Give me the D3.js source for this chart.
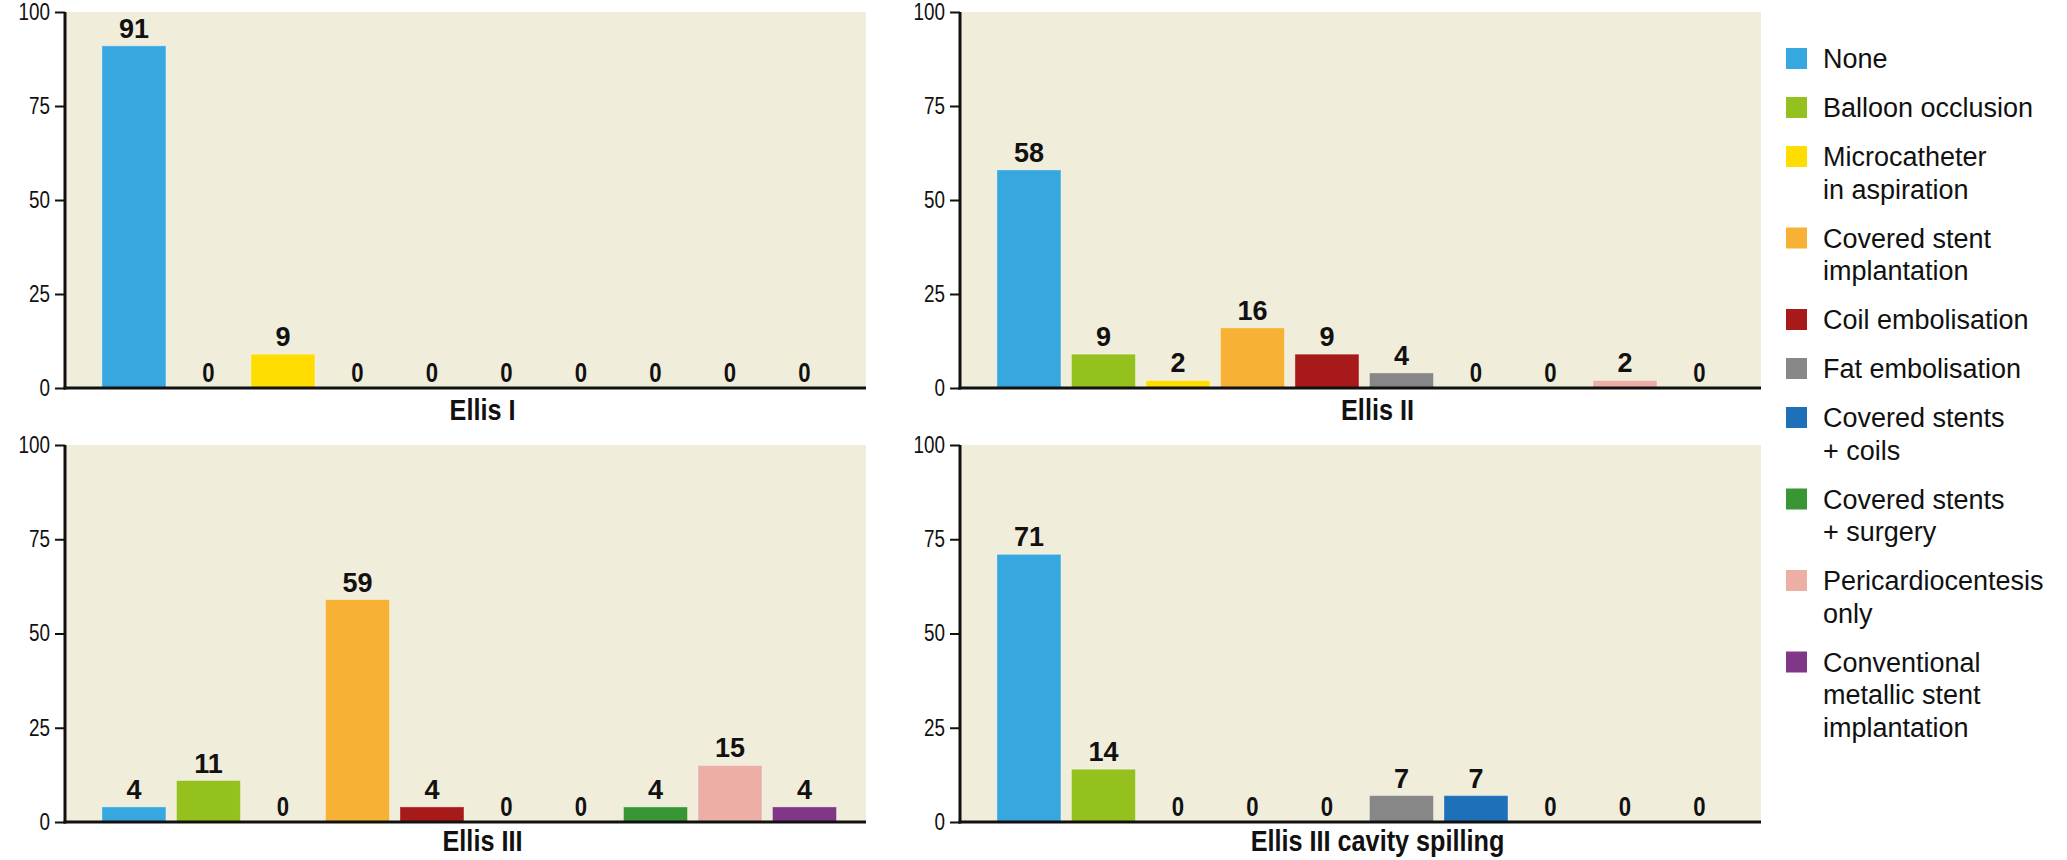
<!DOCTYPE html>
<html lang="en">
<head>
<meta charset="utf-8">
<title>Ellis classes - treatment</title>
<script src="https://cdn.jsdelivr.net/npm/d3@7"></script>
<style>
  body { margin: 0; background: #fff; }
  svg { display: block; }
  .tick text { font-family: "Liberation Sans", Arial, sans-serif; font-size: 23px; fill: #111; }
  .val { font-family: "Liberation Sans", Arial, sans-serif; font-weight: bold; font-size: 27px; fill: #111; text-anchor: middle; }
  .ptitle { font-family: "Liberation Sans", Arial, sans-serif; font-weight: bold; font-size: 29px; fill: #111; text-anchor: middle; }
  .leg { font-family: "Liberation Sans", Arial, sans-serif; font-size: 27px; fill: #111; }
</style>
</head>
<body>
<div id="chart"></div>
<script>

// categories (legend order = bar order)
var categories = ["None", "Balloon occlusion", "Microcatheter in aspiration", "Covered stent implantation",
  "Coil embolisation", "Fat embolisation", "Covered stents + coils", "Covered stents + surgery",
  "Pericardiocentesis only", "Conventional metallic stent implantation"];
var legendLines = [["None"], ["Balloon occlusion"], ["Microcatheter", "in aspiration"], ["Covered stent", "implantation"],
  ["Coil embolisation"], ["Fat embolisation"], ["Covered stents", "+ coils"], ["Covered stents", "+ surgery"],
  ["Pericardiocentesis", "only"], ["Conventional", "metallic stent", "implantation"]];
var colors = ["#37a8df", "#95c11f", "#ffdd00", "#f7b134", "#a8191a", "#878787", "#1e71b8", "#399634", "#ecafa6", "#813788"];

// percentages per panel
var ellis1 = [91, 0, 9, 0, 0, 0, 0, 0, 0, 0];
var ellis2 = [58, 9, 2, 16, 9, 4, 0, 0, 2, 0];
var ellis3 = [4, 11, 0, 59, 4, 0, 0, 4, 15, 4];
var ellis3cav = [71, 14, 0, 0, 0, 7, 7, 0, 0, 0];
var panelTitles = ["Ellis I", "Ellis II", "Ellis III", "Ellis III cavity spilling"];
var yTicks = [0, 25, 50, 75, 100];

var w = 2067, h = 860;
var narrow = 0.82; // fake a condensed face, no narrow font installed
var svg = d3.select("#chart").append("svg").attr("width", w).attr("height", h);

// panel frames: left axis x, right edge, top, zero line
var panels = [
  {data: ellis1, x0: 65, x1: 866, y0: 12, y1: 388},
  {data: ellis2, x0: 960, x1: 1761, y0: 12, y1: 388},
  {data: ellis3, x0: 65, x1: 866, y0: 445, y1: 822},
  {data: ellis3cav, x0: 960, x1: 1761, y0: 445, y1: 822}
];

var color = d3.scaleOrdinal().domain(categories).range(colors);

panels.forEach(function(p, pi) {
  var g = svg.append("g");
  var x = d3.scaleBand().domain(categories).range([p.x0, p.x1]).paddingInner(0.141).paddingOuter(0.446).align(0.556);
  var y = d3.scaleLinear().domain([0, 100]).range([p.y1, p.y0]);

  g.append("rect")
    .attr("x", p.x0).attr("y", p.y0)
    .attr("width", p.x1 - p.x0).attr("height", p.y1 - p.y0)
    .attr("fill", "#f1eddb");

  g.selectAll(".bar")
    .data(p.data)
    .enter().append("rect")
    .attr("class", "bar")
    .attr("x", function(d, i) { return x(categories[i]); })
    .attr("y", function(d) { return y(d); })
    .attr("width", x.bandwidth())
    .attr("height", function(d) { return y(0) - y(d); })
    .attr("fill", function(d, i) { return color(categories[i]); })
    .attr("stroke", "rgba(255,255,255,0.35)")
    .attr("stroke-width", 1);

  g.selectAll(".val")
    .data(p.data)
    .enter().append("text")
    .attr("class", "val")
    .attr("transform", function(d, i) {
      var cx = x(categories[i]) + x.bandwidth() / 2;
      var cy = y(d) - (d === 0 ? 6 : 8);
      return "translate(" + cx + "," + cy + ")" + (d === 0 ? " scale(" + narrow + ",1)" : "");
    })
    .text(function(d) { return d; });

  // y axis
  var ax = g.append("g")
    .attr("transform", "translate(" + p.x0 + ",0)")
    .call(d3.axisLeft(y).tickValues(yTicks).tickSize(10).tickPadding(5));
  ax.select(".domain").remove();
  ax.selectAll(".tick line").attr("stroke", "#111").attr("stroke-width", 2);
  ax.selectAll(".tick text")
    .attr("x", -15 / narrow)
    .attr("transform", "scale(" + narrow + ",1)");

  g.append("line")
    .attr("x1", p.x0).attr("x2", p.x0)
    .attr("y1", p.y0).attr("y2", p.y1 + 1.5)
    .attr("stroke", "#111").attr("stroke-width", 3);
  g.append("line")
    .attr("x1", p.x0 - 1.5).attr("x2", p.x1)
    .attr("y1", p.y1).attr("y2", p.y1)
    .attr("stroke", "#111").attr("stroke-width", 3);

  g.append("text")
    .attr("class", "ptitle")
    .attr("transform", "translate(" + ((p.x0 + p.x1) / 2 + 17) + "," + (p.y1 + (pi < 2 ? 32 : 29)) + ") scale(0.87,1)")
    .text(panelTitles[pi]);
});

// legend
var legend = svg.append("g").attr("id", "legend");
var ly = 68;
legendLines.forEach(function(lines, i) {
  legend.append("rect")
    .attr("x", 1786).attr("y", ly - 20)
    .attr("width", 21).attr("height", 21)
    .attr("fill", color(categories[i]));
  lines.forEach(function(t, j) {
    legend.append("text")
      .attr("class", "leg")
      .attr("x", 1823).attr("y", ly + j * 32.5)
      .text(t);
  });
  ly += (lines.length - 1) * 32.5 + 49;
});

</script>
</body>
</html>
